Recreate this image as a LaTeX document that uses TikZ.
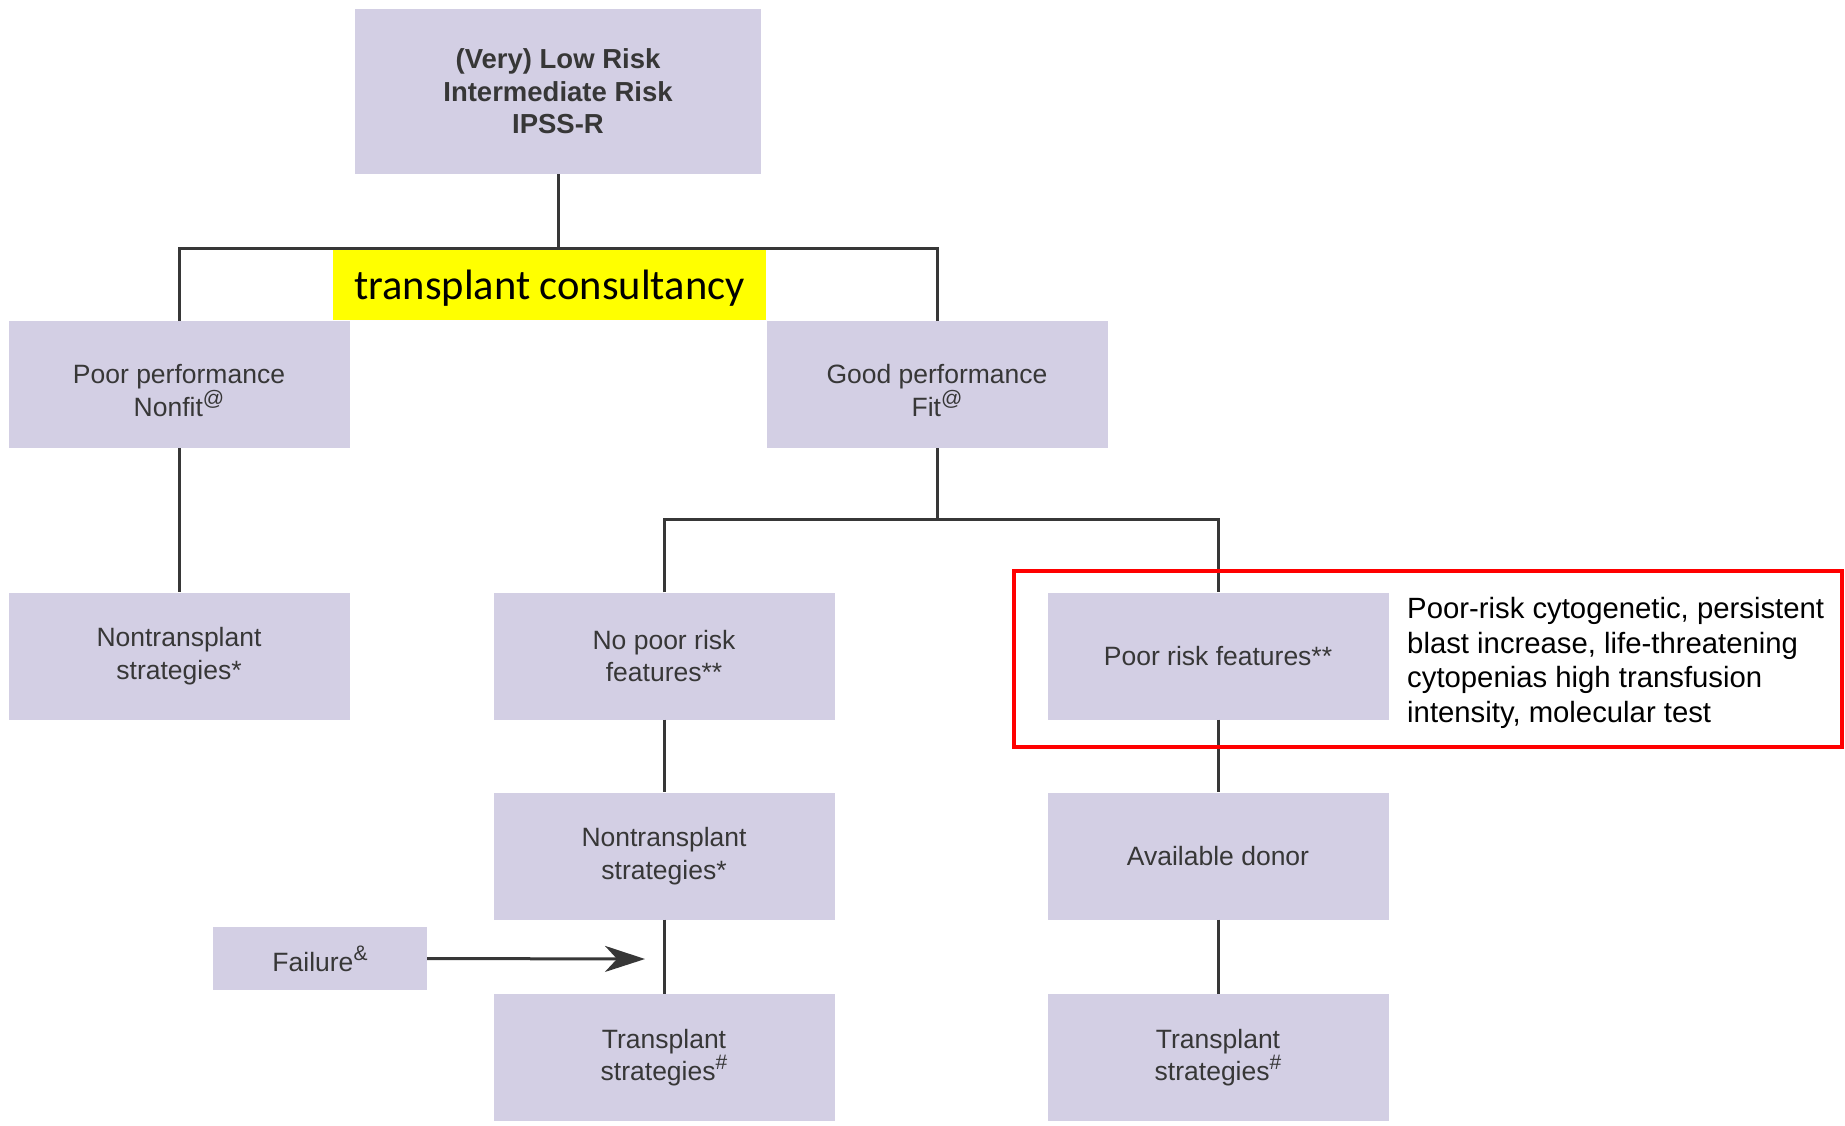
\documentclass[tikz,border=0pt]{standalone}
\usepackage{fontspec}
\setmainfont{Liberation Sans}
\newfontfamily\calfont{Carlito}
\usetikzlibrary{arrows.meta}
\definecolor{boxfill}{RGB}{211,207,228}
\definecolor{boxtext}{RGB}{55,55,55}
\definecolor{linkgray}{RGB}{55,55,55}
\definecolor{hilite}{RGB}{255,255,0}
% raised footnote marks inside the boxes
\newcommand\footmark[1]{\raisebox{0.42em}{\fontsize{21}{21}\selectfont #1}}
\begin{document}
\begin{tikzpicture}[x=1pt,y=-1pt,
  box/.style={rectangle, fill=boxfill, text=boxtext, align=center, inner sep=0pt,
    font=\fontsize{26.5}{32.5}\selectfont},
  wide/.style={box, minimum width=341pt, minimum height=127pt},
  caption/.style={inner sep=0pt, align=center, text=boxtext,
    font=\fontsize{26.5}{32.5}\selectfont}]
\tikzset{link/.style={draw=linkgray, line width=3pt}}
\useasboundingbox (0,0) rectangle (1845,1125);

% level 0
\node[box, minimum width=406pt, minimum height=165pt,
      font=\fontsize{27.5}{32.5}\bfseries\selectfont] (top) at (558,91.5)
  {(Very) Low Risk\\Intermediate Risk\\IPSS-R};

% level 1 (captions sit a little below the box centre)
\node[wide] (poorperf) at (179,384.5) {};
\node[caption] (poorperftext) at ([yshift=-6pt]poorperf.center)
  {Poor performance\\Nonfit\footmark{@}};
\node[wide] (goodperf) at (937,384.5) {};
\node[caption] (goodperftext) at ([yshift=-6pt]goodperf.center)
  {Good performance\\Fit\footmark{@}};

% level 2
\node[wide] (ntleft)   at (179,656)   {Nontransplant\\strategies*};
\node[wide] (nopoor)   at (664,656)   {No poor risk\\features**};
\node[wide] (poorrisk) at (1218,656)  {Poor risk features**};

% level 3
\node[wide] (ntmid)    at (664,856)   {Nontransplant\\strategies*};
\node[wide] (donor)    at (1218,856)  {Available donor};

% level 4
\node[wide] (tpmid)    at (664,1057.5)  {Transplant\\strategies\footmark{\#}};
\node[wide] (tpright)  at (1218,1057.5) {Transplant\\strategies\footmark{\#}};
\node[box, minimum width=214pt, minimum height=63pt] (failure) at (320,958.5)
  {Failure\footmark{\&}};

% junctions of the tree
\coordinate (split1) at (558,248);
\coordinate (split2) at (937,519);
\coordinate (failend) at (645,959);

% connectors
\draw[link] (top.south) -- (split1);
\draw[link] (poorperf.north) |- (split1) -| (goodperf.north);
\draw[link] (poorperf.south) -- (ntleft.north);
\draw[link] (goodperf.south) -- (split2);
\draw[link] (nopoor.north) |- (split2) -| (poorrisk.north);
\draw[link] (nopoor.south) -- (ntmid.north);
\draw[link] (ntmid.south) -- (tpmid.north);
\draw[link] (poorrisk.south) -- (donor.north);
\draw[link] (donor.south) -- (tpright.north);
\draw[link, -{Stealth[length=40pt, width=26pt, inset=12pt]}] (failure.east) -- (failend);

% highlighted label over the first split
\node[fill=hilite, minimum width=433pt, minimum height=70pt, inner sep=0pt] (consult)
  at (549.5,285) {};
\node[inner sep=0pt, font=\calfont\fontsize{42.5}{50}\selectfont] (consulttext)
  at ([yshift=-3pt]consult.center) {transplant consultancy};

% annotation of the poor risk criteria
\node[draw=red, line width=4.5pt, minimum width=828pt, minimum height=176pt,
      inner sep=0pt] (riskframe) at (1428,659) {};
\node[anchor=west, align=left, inner sep=0pt,
      font=\fontsize{29.3}{34.6}\selectfont] (risknote) at (1407,663)
  {Poor-risk cytogenetic, persistent\\blast increase, life-threatening\\cytopenias high transfusion\\intensity, molecular test};
\end{tikzpicture}
\end{document}
